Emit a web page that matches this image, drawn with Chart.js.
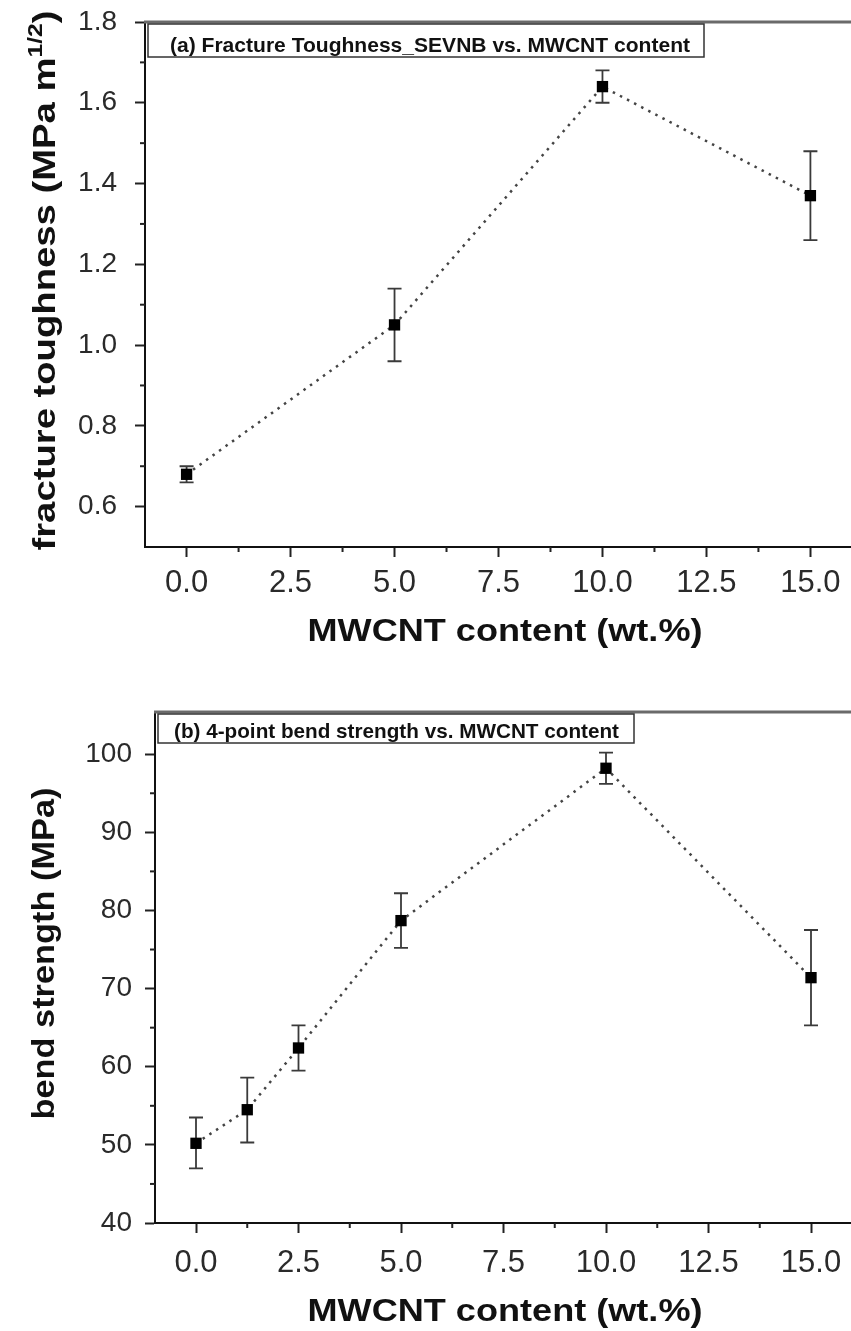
<!DOCTYPE html>
<html><head><meta charset="utf-8">
<script src="https://cdn.jsdelivr.net/npm/chart.js@4/dist/chart.umd.min.js"></script>
<style>
html,body{margin:0;padding:0;background:#fff;overflow:hidden;width:851px;height:1331px;}
.wrap{position:absolute;left:0;width:860px;}
#w1{top:0;height:660px;}
#w2{top:660px;height:671px;}
canvas{display:block;}
</style></head><body>
<div class="wrap" id="w1"><canvas id="c1"></canvas></div>
<div class="wrap" id="w2"><canvas id="c2"></canvas></div>
<script>
// ---- data ----
const toughX = [0, 5, 10, 15];
const toughY = [0.68, 1.05, 1.64, 1.37];
const toughLow = [0.66, 0.96, 1.60, 1.26];
const toughHigh = [0.70, 1.14, 1.68, 1.48];
const bendX = [0, 1.25, 2.5, 5, 10, 15];
const bendY = [50.2, 54.5, 62.4, 78.7, 98.2, 71.4];
const bendLow = [47.0, 50.3, 59.5, 75.2, 96.2, 65.3];
const bendHigh = [53.5, 58.6, 65.3, 82.2, 100.2, 77.5];
const xTicks = [0, 2.5, 5, 7.5, 10, 12.5, 15];
const xMinorTicks = [1.25, 3.75, 6.25, 8.75, 11.25, 13.75];
const toughYTicks = [0.6, 0.8, 1.0, 1.2, 1.4, 1.6, 1.8];
const toughYMinor = [0.7, 0.9, 1.1, 1.3, 1.5, 1.7];
const bendYTicks = [40, 50, 60, 70, 80, 90, 100];
const bendYMinor = [45, 55, 65, 75, 85, 95];
const xTitle = 'MWCNT content (wt.%)';
const toughTitleParts = ['fracture toughness (MPa m', '1/2', ')'];
const bendTitle = 'bend strength (MPa)';
const toughLegend = '(a) Fracture Toughness_SEVNB vs. MWCNT content';
const bendLegend = '(b) 4-point bend strength vs. MWCNT content';

const FONT = '"Liberation Sans", Arial, Helvetica, sans-serif';

function fitText(ctx, text, x, y, font, targetW) {
  ctx.save();
  ctx.font = font;
  const w = ctx.measureText(text).width;
  ctx.translate(x, y);
  ctx.scale(targetW / w, 1);
  ctx.textAlign = 'left';
  ctx.textBaseline = 'alphabetic';
  ctx.fillText(text, 0, 0);
  ctx.restore();
}

const errorBars = {
  id: 'errorBars',
  beforeDatasetsDraw(chart) {
    const ctx = chart.ctx, xs = chart.scales.x, ys = chart.scales.y;
    const ds = chart.data.datasets[0];
    ctx.save();
    ctx.strokeStyle = '#3a3a3a'; ctx.lineWidth = 1.8;
    ds.data.forEach((p, i) => {
      const x = xs.getPixelForValue(p.x);
      const y1 = ys.getPixelForValue(ds.errLow[i]);
      const y2 = ys.getPixelForValue(ds.errHigh[i]);
      ctx.beginPath();
      ctx.moveTo(x, y1); ctx.lineTo(x, y2);
      ctx.moveTo(x - 7, y1); ctx.lineTo(x + 7, y1);
      ctx.moveTo(x - 7, y2); ctx.lineTo(x + 7, y2);
      ctx.stroke();
    });
    ctx.restore();
  }
};

const decor = {
  id: 'decor',
  afterDraw(chart, args, o) {
    const ctx = chart.ctx, ca = chart.chartArea, xs = chart.scales.x, ys = chart.scales.y;
    ctx.save();
    // minor ticks
    ctx.strokeStyle = '#222'; ctx.lineWidth = 2;
    o.yMinor.forEach(v => { const y = ys.getPixelForValue(v); ctx.beginPath(); ctx.moveTo(ca.left - 5, y); ctx.lineTo(ca.left, y); ctx.stroke(); });
    o.xMinor.forEach(v => { const x = xs.getPixelForValue(v); ctx.beginPath(); ctx.moveTo(x, ca.bottom); ctx.lineTo(x, ca.bottom + 5); ctx.stroke(); });
    // top frame line
    ctx.strokeStyle = '#6a6a6a'; ctx.lineWidth = 3;
    ctx.beginPath(); ctx.moveTo(ca.left - 1, ca.top); ctx.lineTo(chart.width, ca.top); ctx.stroke();
    // legend box
    const bx = ca.left + o.boxDx, by = ca.top + 2;
    ctx.fillStyle = '#fff'; ctx.fillRect(bx, by, o.boxW, o.boxH);
    ctx.strokeStyle = '#333'; ctx.lineWidth = 1.5; ctx.strokeRect(bx, by, o.boxW, o.boxH);
    ctx.fillStyle = '#111';
    fitText(ctx, o.legend, bx + o.textDx, by + o.textDy, 'bold 21px ' + FONT, o.textW);
    // x title
    ctx.fillStyle = '#111';
    fitText(ctx, xTitle, o.xTitleCx - o.xTitleW / 2, o.xTitleY, 'bold 32px ' + FONT, o.xTitleW);
    // y title (rotated)
    ctx.save();
    const cy = (ca.top + ca.bottom) / 2 + o.yTitleDy;
    ctx.translate(o.yTitleX, cy);
    ctx.rotate(-Math.PI / 2);
    const parts = o.yParts;
    let W = 0;
    parts.forEach(p => { ctx.font = p.f; p.w = ctx.measureText(p.t).width; W += p.w; });
    ctx.scale(o.yTitleW / W, 1);
    let cx = -W / 2;
    ctx.textBaseline = 'alphabetic';
    ctx.textAlign = 'left';
    parts.forEach(p => { ctx.font = p.f; ctx.fillText(p.t, cx, p.dy || 0); cx += p.w; });
    ctx.restore();
    ctx.restore();
  }
};

function buildChart(id, o) {
  const canvas = document.getElementById(id);
  canvas.width = 860; canvas.height = o.h;
  return new Chart(canvas, {
    type: 'scatter',
    data: { datasets: [{
      data: o.xs.map((x, i) => ({ x: x, y: o.ys[i] })),
      errLow: o.low, errHigh: o.high,
      showLine: true, borderColor: '#444', borderWidth: 2.5, borderDash: [2.5, 5.5],
      pointStyle: 'rect', pointRadius: 8, pointBackgroundColor: '#000', pointBorderColor: '#000', pointBorderWidth: 0
    }] },
    options: {
      responsive: false, animation: false, devicePixelRatio: 1,
      layout: { padding: { top: o.padTop, left: 0, right: 7, bottom: 0 } },
      plugins: { legend: { display: false }, tooltip: { enabled: false }, decor: o.decor },
      scales: {
        x: {
          type: 'linear', min: -1, max: 16,
          afterBuildTicks: s => { s.ticks = xTicks.map(v => ({ value: v })); },
          afterFit: s => { s.height = o.xAxisH; s.paddingLeft = 0; s.paddingRight = 0; s.paddingTop = 0; s.paddingBottom = 0; },
          grid: { drawOnChartArea: false, drawTicks: true, tickLength: 10, tickWidth: 2, tickColor: '#222' },
          border: { display: true, color: '#111', width: 2 },
          ticks: { font: { family: FONT, size: 31 }, color: '#2a2a2a', padding: o.xPad, maxRotation: 0, autoSkip: false, callback: v => Number(v).toFixed(1) }
        },
        y: {
          type: 'linear', min: o.ymin, max: o.ymax,
          afterBuildTicks: s => { s.ticks = o.yTicks.map(v => ({ value: v })); },
          afterFit: s => { s.width = o.yAxisW; s.paddingLeft = 0; s.paddingRight = 0; s.paddingTop = 0; s.paddingBottom = 0; },
          grid: { drawOnChartArea: false, drawTicks: true, tickLength: 10, tickWidth: 2, tickColor: '#222' },
          border: { display: true, color: '#111', width: 2 },
          ticks: { font: { family: FONT, size: 28 }, color: '#2a2a2a', padding: o.yPad, autoSkip: false, callback: o.yFmt }
        }
      }
    },
    plugins: [errorBars, decor]
  });
}

buildChart('c1', {
  h: 660, padTop: 22, xAxisH: 660 - 547, yAxisW: 145, xPad: 8, yPad: 18,
  xs: toughX, ys: toughY, low: toughLow, high: toughHigh,
  ymin: 0.5, ymax: 1.8, yTicks: toughYTicks, yFmt: v => Number(v).toFixed(1),
  decor: {
    yMinor: toughYMinor, xMinor: xMinorTicks,
    legend: toughLegend, boxDx: 3, boxW: 556, boxH: 33, textDx: 22, textDy: 28, textW: 520,
    xTitleCx: 505, xTitleW: 395, xTitleY: 641,
    yTitleX: 55, yTitleDy: -4, yTitleW: 540,
    yParts: [
      { t: toughTitleParts[0], f: 'bold 31px ' + FONT },
      { t: toughTitleParts[1], f: 'bold 20px ' + FONT, dy: -13 },
      { t: toughTitleParts[2], f: 'bold 31px ' + FONT }
    ]
  }
});

buildChart('c2', {
  h: 671, padTop: 52, xAxisH: 671 - 563, yAxisW: 155, xPad: 12, yPad: 13,
  xs: bendX, ys: bendY, low: bendLow, high: bendHigh,
  ymin: 40, ymax: 105.4, yTicks: bendYTicks, yFmt: v => String(Math.round(v)),
  decor: {
    yMinor: bendYMinor, xMinor: xMinorTicks,
    legend: bendLegend, boxDx: 3, boxW: 476, boxH: 29, textDx: 16, textDy: 24, textW: 445,
    xTitleCx: 505, xTitleW: 395, xTitleY: 661,
    yTitleX: 54, yTitleDy: -14, yTitleW: 332,
    yParts: [ { t: bendTitle, f: 'bold 31px ' + FONT } ]
  }
});
</script>
</body></html>
